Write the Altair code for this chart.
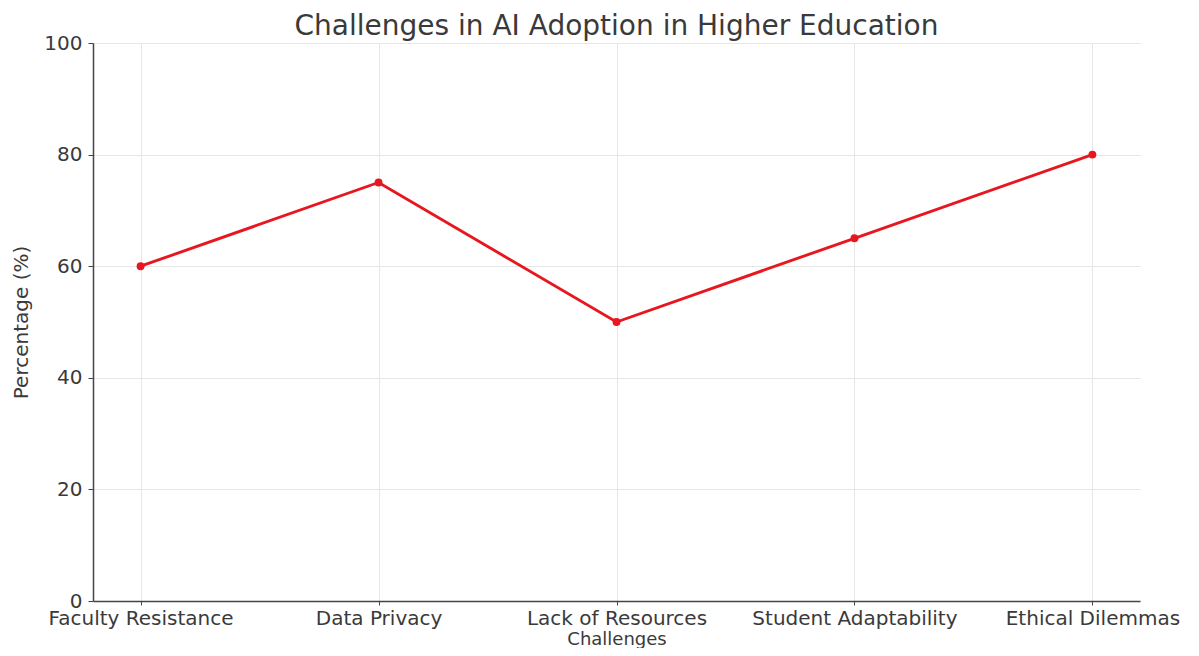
import altair as alt
import pandas as pd

challenges = ["Faculty Resistance", "Data Privacy", "Lack of Resources",
              "Student Adaptability", "Ethical Dilemmas"]
percentages = [60, 75, 50, 65, 80]
y_ticks = [0, 20, 40, 60, 80, 100]

df = pd.DataFrame({"Challenge": challenges, "Percentage": percentages})

FONT = "DejaVu Sans"
TEXT = "#3a3a3a"
RED = "#e8161f"

x = alt.X("Challenge:N", sort=challenges, title="Challenges",
          scale=alt.Scale(type="point", padding=0.2),
          axis=alt.Axis(labelAngle=0, grid=True, tickSize=4, labelPadding=3,
                        titlePadding=2, titleFontSize=18, labelFontSize=20))
y = alt.Y("Percentage:Q", title="Percentage (%)",
          scale=alt.Scale(domain=[0, 100], nice=False, zero=True),
          axis=alt.Axis(values=y_ticks, grid=True, tickSize=5, labelPadding=6,
                        titlePadding=12))

base = alt.Chart(df).encode(x=x, y=y)
line = base.mark_line(color=RED, strokeWidth=2.9)
pts = base.mark_circle(color=RED, size=62, opacity=1)

chart = (line + pts).properties(
    width=1047, height=558,
    autosize=alt.AutoSizeParams(type="none"),
    padding={"left": 85, "top": 35, "right": 51, "bottom": 47},
    title=alt.TitleParams("Challenges in AI Adoption in Higher Education",
                          font=FONT, fontSize=28, fontWeight="normal",
                          color=TEXT, anchor="middle", offset=-8),
).configure_view(stroke=None).configure_axis(
    labelFont=FONT, titleFont=FONT, labelFontSize=20, titleFontSize=20,
    labelColor=TEXT, titleColor=TEXT, titleFontWeight="normal",
    domainColor="#444444", domainWidth=1.5, tickColor="#444444",
    gridColor="#e6e6e6", gridWidth=1,
).configure_axisX(labelLimit=400)

chart.save("out.html", embed_options={"renderer": "svg", "actions": False})
